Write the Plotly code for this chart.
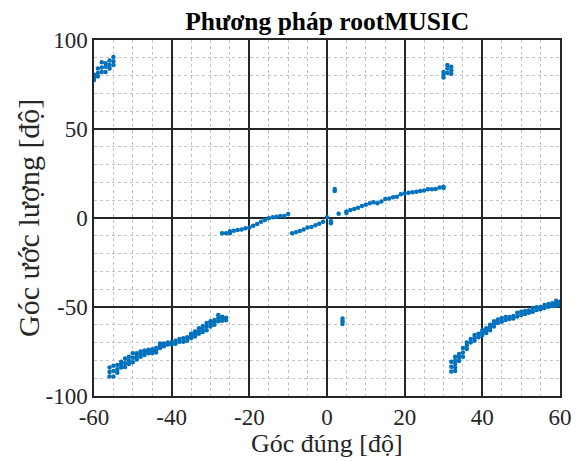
import plotly.graph_objects as go

# True angle -> list of estimated angles
top_left_x = [-60, -59, -58, -57, -56, -55]
top_left_y = [[77.5, 79, 80.5], [79.5, 81.5, 84], [82, 84.5, 87.5], [82, 85, 87], [84, 86, 88.5], [86, 88, 90.5]]

bottom_left_x = list(range(-56, -25))
bottom_left_y = [[-84, -86.5, -89], [-83, -86, -89], [-82.6, -85, -87], [-80.7, -82.3, -84], [-79, -81.5, -83.7],
                 [-78, -80, -82], [-76, -78.5, -81], [-76, -77.8, -79.5], [-75, -76.5, -78], [-74.5, -75.8, -77],
                 [-74, -75, -76], [-73.8, -75, -76], [-73, -74.3, -75.5], [-70.5, -71.8, -73], [-70.5, -72],
                 [-70, -71], [-69.8, -71], [-69, -70.7], [-68, -69.5], [-67.5, -69.5],
                 [-67, -69], [-65, -66.2, -67.4], [-63.7, -65.2, -66.6], [-62, -63.5, -65], [-60.7, -62.3, -64],
                 [-59, -61, -63], [-58, -59.5, -61], [-57.3, -58.6, -60], [-54.5, -56.3, -58], [-55.5, -56.6, -57.7], [-56, -57.5]]

mid_left_x = list(range(-27, -9))
mid_left_y = [[-8.6], [-8.6], [-7.5, -8.6], [-7.1], [-6.8], [-6.4], [-5.8], [-5.3], [-4.3],
              [-3.4], [-2.1], [-1.1], [-0.2], [0.4], [0.7], [1.1], [1.1], [2.2]]

mid_right_x = [-9, -8, -7, -6, -5, -4, -3, -2, -1, 0, 1, 2, 3, 5, 6, 7, 8, 9, 10, 11, 12, 13, 14, 15,
               16, 17, 18, 19, 20, 21, 22, 23, 24, 25, 26, 27, 28, 29, 30]
mid_right_y = [[-8.6], [-8.0], [-7.3], [-6.4], [-5.4], [-5.0], [-4.1], [-3.3], [-2.1], [0.4],
               [-1.8, -2.9], [15.2, 16.3], [2.4], [3.6, 2.8], [4.5], [5.1], [5.8], [6.7], [7.5], [8.3],
               [8.8], [8.3], [9.2], [10.7], [11.0], [11.6], [12.0], [13.3], [13.9], [14.2], [14.5],
               [14.8], [15.2], [15.4], [16.1], [16.1], [16.3], [17.2], [17.6, 16.8]]

outlier_x = [4]
outlier_y = [[-56.5, -58, -59.5]]

top_right_x = [30, 31, 32]
top_right_y = [[79, 80.5, 82], [81.5, 84, 86], [81, 83, 85]]

bottom_right_x = list(range(32, 61))
bottom_right_y = [[-80.7, -83.5, -86.3], [-78, -80, -82, -84, -86], [-76.4, -78.3, -80.3], [-73, -75.5, -78], [-70, -71.8, -73.6],
                  [-68, -70], [-65.7, -67.3, -69], [-65, -67], [-63, -64.3, -65.7], [-62, -63.3, -64.6], [-60, -61.5, -63],
                  [-58, -59.5, -61], [-57, -59], [-56.2, -58.3], [-55.6, -57.3], [-55.6, -56.8], [-55, -56.5],
                  [-53.2, -55.4], [-52.6, -54.5], [-52.2, -54], [-52, -53.2], [-50.6, -52.6],
                  [-50.2, -51.7], [-50, -51.3], [-48.9, -50.6], [-48.3, -49.8], [-47.9, -49.4],
                  [-46.5, -48, -49.4], [-47, -48.9]]

x_ticks = [-60, -40, -20, 0, 20, 40, 60]
x_tick_text = ["-60", "-40", "-20", "0", "20", "40", "60"]
y_ticks = [-100, -50, 0, 50, 100]
y_tick_text = ["-100", "-50", "0", "50", "100"]

groups = [(top_left_x, top_left_y), (bottom_left_x, bottom_left_y), (mid_left_x, mid_left_y),
          (mid_right_x, mid_right_y), (outlier_x, outlier_y), (top_right_x, top_right_y),
          (bottom_right_x, bottom_right_y)]

xs, ys = [], []
for gx, gy in groups:
    for a, vals in zip(gx, gy):
        for v in vals:
            xs.append(a)
            ys.append(v)

fig = go.Figure()
fig.add_trace(go.Scatter(x=xs, y=ys, mode="markers",
                         marker=dict(color="#0072BD", size=4.5, line=dict(width=0)),
                         showlegend=False))

font_family = "Liberation Serif, Times New Roman, serif"
axis_common = dict(
    showgrid=True, gridcolor="#262626", gridwidth=1.5,
    showline=True, linecolor="#262626", linewidth=1.5, mirror=True,
    ticks="inside", ticklen=5, tickcolor="#262626",
    zeroline=False, automargin=False,
    tickfont=dict(family=font_family, size=23, color="#262626"),
)

fig.update_xaxes(range=[-60, 60], tickmode="array", tickvals=x_ticks, ticktext=x_tick_text,
                 minor=dict(dtick=5, showgrid=True, gridcolor="#c4c4c4", griddash="dot", gridwidth=1),
                 **axis_common)
fig.update_yaxes(range=[-100, 100], tickmode="array", tickvals=y_ticks, ticktext=y_tick_text,
                 minor=dict(dtick=10, showgrid=True, gridcolor="#c4c4c4", griddash="dot", gridwidth=1),
                 **axis_common)

fig.add_annotation(text="Góc đúng [độ]", xref="paper", yref="paper", x=0.5, y=0,
                   xanchor="center", yanchor="bottom", yshift=-64, showarrow=False,
                   font=dict(family=font_family, size=26, color="#262626"))
fig.add_annotation(text="Góc ước lượng [độ]", xref="paper", yref="paper", x=0, y=0.5,
                   xanchor="center", yanchor="middle", xshift=-66, textangle=-90, showarrow=False,
                   font=dict(family=font_family, size=30, color="#262626"))

fig.update_layout(
    width=576, height=461,
    margin=dict(l=94, r=16, t=40, b=65),
    paper_bgcolor="white", plot_bgcolor="white",
    title=dict(text="<b>Phương pháp rootMUSIC</b>", x=0.568, xanchor="center", y=0.955, yanchor="middle",
               font=dict(family=font_family, size=25.5, color="black")),
)

fig.write_html("out.html")
